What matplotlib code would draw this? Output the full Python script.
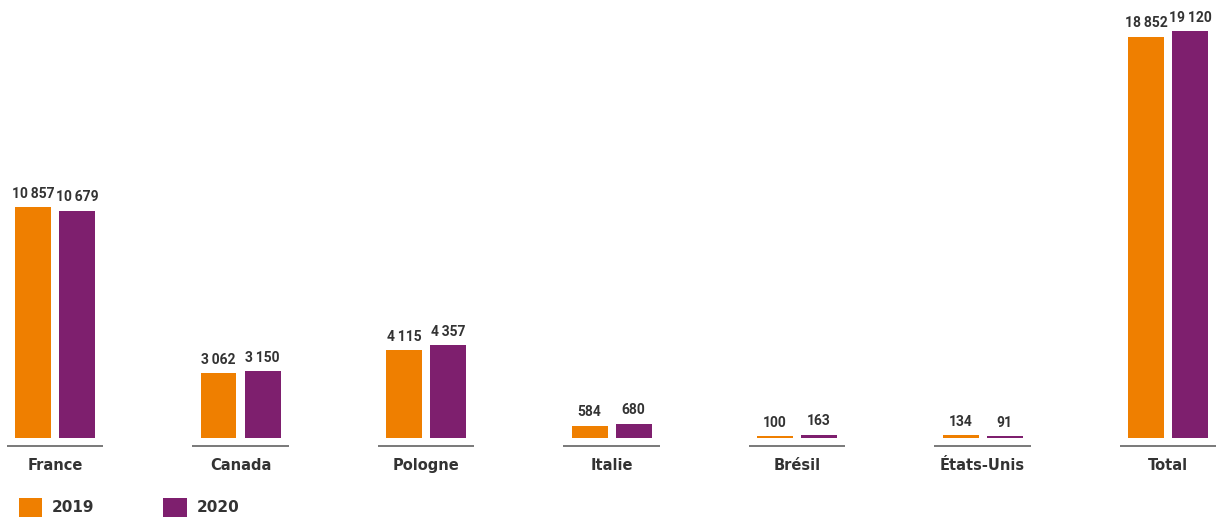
"""Effectifs par pays, 2019 vs 2020 -- grouped bar chart."""

import matplotlib
matplotlib.use("Agg")
import matplotlib.pyplot as plt
import numpy as np

ORANGE = "#EF7F00"
PURPLE = "#7E1F6E"
INK = "#333333"

countries = ["France", "Canada", "Pologne", "Italie", "Brésil", "États-Unis", "Total"]
values_2019 = [10857, 3062, 4115, 584, 100, 134, 18852]
values_2020 = [10679, 3150, 4357, 680, 163, 91, 19120]
years = ["2019", "2020"]


def fmt(v):
    # thin space as thousands separator, like the print version
    return f"{int(v):,}".replace(",", "\u2009")


plt.rcParams["font.family"] = ["DejaVu Sans"]

fig = plt.figure(figsize=(12.17, 5.23), dpi=100)
ax = fig.add_axes([0, 0, 1, 1])
ax.set_xlim(-0.2965, 6.264)
ax.set_ylim(-3993, 20573)
ax.axis("off")

x = np.arange(len(countries))
w = 0.194
off = 0.1186
b1 = ax.bar(x - off, values_2019, w, color=ORANGE, label=years[0])
b2 = ax.bar(x + off, values_2020, w, color=PURPLE, label=years[1])

for bars in (b1, b2):
    ax.bar_label(bars, labels=[fmt(v) for v in bars.datavalues], padding=4.5,
                 fontsize=10, fontweight="bold", color=INK,
                 family=["Roboto", "DejaVu Sans"])

# short grey baseline under each group
ax.hlines([-376] * len(x), x - 0.26, x + 0.26, color="#555555", lw=1.1)

for xi, name in zip(x, countries):
    ax.text(xi, -1315, name, ha="center", va="center", fontsize=10.5,
            fontweight="bold", color=INK)

ax.legend(handles=[b1, b2], loc="center left", bbox_to_anchor=(0.004, 0.03),
          ncol=2, frameon=False, handlelength=1.55,
          handleheight=1.55, handletextpad=0.65, columnspacing=4.5,
          prop={"weight": "bold", "size": 11}, labelcolor=INK)

fig.savefig("out.png", dpi=100, facecolor="white")
